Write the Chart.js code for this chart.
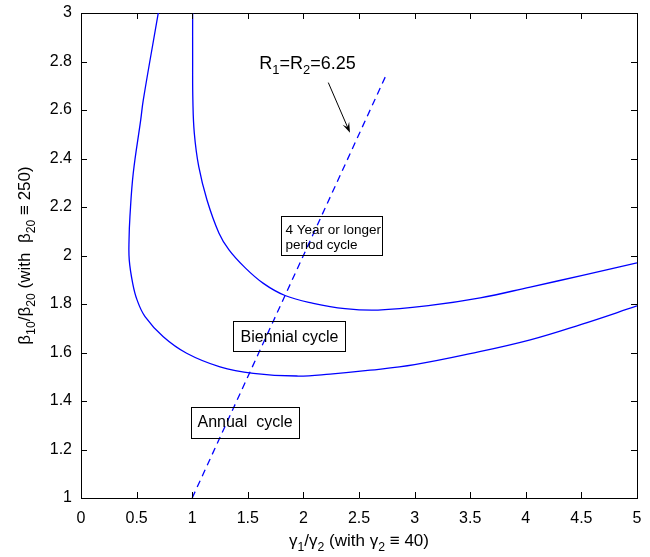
<!DOCTYPE html>
<html>
<head>
<meta charset="utf-8">
<script src="https://cdn.jsdelivr.net/npm/chart.js@4/dist/chart.umd.min.js"></script>
<style>
  html, body { margin: 0; padding: 0; background: #fff; }
</style>
</head>
<body>
<canvas id="myChart" width="650" height="557"></canvas>
<script>
// axis ticks
const xTicks = [0, 0.5, 1, 1.5, 2, 2.5, 3, 3.5, 4, 4.5, 5];
const xTickLabels = ['0', '0.5', '1', '1.5', '2', '2.5', '3', '3.5', '4', '4.5', '5'];
const yTicks = [1, 1.2, 1.4, 1.6, 1.8, 2, 2.2, 2.4, 2.6, 2.8, 3];
const yTickLabels = ['1', '1.2', '1.4', '1.6', '1.8', '2', '2.2', '2.4', '2.6', '2.8', '3'];

// annual / biennial boundary
const lowerX = [0.695, 0.56, 0.537, 0.47, 0.44, 0.432, 0.434, 0.465, 0.504, 0.576, 0.74, 0.95, 1.25, 1.55, 1.94, 2.24, 2.6, 3.0, 3.5, 4.04, 4.5, 5.0];
const lowerY = [3.0, 2.641, 2.559, 2.34, 2.16, 2.064, 1.981, 1.885, 1.817, 1.748, 1.665, 1.597, 1.541, 1.514, 1.503, 1.511, 1.527, 1.55, 1.595, 1.652, 1.716, 1.792];

// biennial / 4 year boundary
const upperX = [1.004, 1.004, 1.006, 1.019, 1.059, 1.133, 1.241, 1.331, 1.466, 1.64, 1.835, 2.089, 2.374, 2.671, 3.14, 3.59, 4.04, 4.51, 5.0];
const upperY = [3.0, 2.806, 2.641, 2.504, 2.366, 2.229, 2.092, 2.023, 1.954, 1.885, 1.835, 1.803, 1.781, 1.775, 1.794, 1.825, 1.87, 1.918, 1.97];

// R1 = R2 = 6.25 line
const dashX = [1.0, 2.75];
const dashY = [1.0, 2.75];

const FONT = '"Liberation Sans", Arial, sans-serif';

const toPoints = (xs, ys) => xs.map((x, i) => ({ x: x, y: ys[i] }));

function richWidth(ctx, parts, size) {
  let w = 0;
  parts.forEach(([t, sub]) => {
    ctx.font = (sub ? size * 0.72 : size) + 'px ' + FONT;
    w += ctx.measureText(t).width;
  });
  return w;
}

function drawRich(ctx, parts, x, y, size) {
  parts.forEach(([t, sub]) => {
    ctx.font = (sub ? size * 0.72 : size) + 'px ' + FONT;
    ctx.fillText(t, x, sub ? y + size * 0.28 : y);
    x += ctx.measureText(t).width;
  });
}

const xTitle = [['γ'], ['1', true], ['/γ'], ['2', true], [' (with γ'], ['2', true], [' ≡ 40)']];
const yTitle = [['β'], ['10', true], ['/β'], ['20', true], [' (with  β'], ['20', true], [' ≡ 250)']];
const rLabel = [['R'], ['1', true], ['=R'], ['2', true], ['=6.25']];

// inward ticks on all four sides (matlab look)
const inTicks = {
  id: 'inTicks',
  afterDraw(chart) {
    const ctx = chart.ctx;
    const xs = chart.scales.x, ys = chart.scales.y;
    const L = xs.left, R = xs.right, T = ys.top, B = ys.bottom;
    ctx.save();
    ctx.strokeStyle = '#000';
    ctx.lineWidth = 1;
    ctx.beginPath();
    xTicks.forEach(v => {
      const px = Math.round(xs.getPixelForValue(v)) + 0.5;
      ctx.moveTo(px, B); ctx.lineTo(px, B - 6);
      ctx.moveTo(px, T); ctx.lineTo(px, T + 6);
    });
    yTicks.forEach(v => {
      const py = Math.round(ys.getPixelForValue(v)) + 0.5;
      ctx.moveTo(L, py); ctx.lineTo(L + 6, py);
      ctx.moveTo(R, py); ctx.lineTo(R - 6, py);
    });
    ctx.stroke();
    ctx.restore();
  }
};

const decor = {
  id: 'decor',
  afterDraw(chart) {
    const ctx = chart.ctx;
    const x = chart.scales.x, y = chart.scales.y;
    ctx.save();
    ctx.strokeStyle = '#000';
    ctx.fillStyle = '#000';
    ctx.lineWidth = 1;
    ctx.textBaseline = 'alphabetic';

    // axis titles
    const xw = richWidth(ctx, xTitle, 17);
    drawRich(ctx, xTitle, (x.left + x.right) / 2 - xw / 2, 546, 17);

    const yw = richWidth(ctx, yTitle, 17);
    ctx.save();
    ctx.translate(30, (y.top + y.bottom) / 2);
    ctx.rotate(-Math.PI / 2);
    drawRich(ctx, yTitle, -yw / 2, 0, 17);
    ctx.restore();

    // region labels
    const box = (x0, y0, x1, y1) => {
      const l = Math.round(x.getPixelForValue(x0)) + 0.5, r = Math.round(x.getPixelForValue(x1)) + 0.5;
      const t = Math.round(y.getPixelForValue(y0)) + 0.5, b = Math.round(y.getPixelForValue(y1)) + 0.5;
      ctx.strokeRect(l, t, r - l, b - t);
      return { l, t, r, b };
    };

    let bx = box(1.803, 2.164, 2.711, 2.002);
    ctx.font = '13.5px ' + FONT;
    ctx.fillText('4 Year or longer', bx.l + 4, bx.t + 17);
    ctx.fillText('period cycle', bx.l + 4, bx.t + 32);

    bx = box(1.364, 1.730, 2.374, 1.606);
    ctx.font = '16px ' + FONT;
    ctx.fillText('Biennial cycle', bx.l + 7, bx.t + 20);

    bx = box(0.989, 1.377, 1.960, 1.246);
    ctx.font = '16px ' + FONT;
    ctx.fillText('Annual  cycle', bx.l + 6, bx.t + 19);

    // R1 = R2 label and arrow
    drawRich(ctx, rLabel, x.getPixelForValue(1.603), y.getPixelForValue(2.769), 18);
    const sx = x.getPixelForValue(2.224), sy = y.getPixelForValue(2.713);
    const ex = x.getPixelForValue(2.419), ey = y.getPixelForValue(2.506);
    const ang = Math.atan2(ey - sy, ex - sx);
    ctx.beginPath();
    ctx.moveTo(sx, sy);
    ctx.lineTo(ex - 5 * Math.cos(ang), ey - 5 * Math.sin(ang));
    ctx.stroke();
    ctx.beginPath();
    ctx.moveTo(ex, ey);
    ctx.lineTo(ex - 11 * Math.cos(ang - 0.33), ey - 11 * Math.sin(ang - 0.33));
    ctx.lineTo(ex - 6 * Math.cos(ang), ey - 6 * Math.sin(ang));
    ctx.lineTo(ex - 11 * Math.cos(ang + 0.33), ey - 11 * Math.sin(ang + 0.33));
    ctx.closePath();
    ctx.fill();

    ctx.restore();
  }
};

const edge = { display: true, color: '#000', width: 1 };
const hidden = { display: false };

new Chart(document.getElementById('myChart'), {
  type: 'scatter',
  data: {
    datasets: [
      {
        data: toPoints(lowerX, lowerY),
        showLine: true,
        borderColor: '#0000ff',
        borderWidth: 1.3,
        pointRadius: 0,
        tension: 0.4
      },
      {
        data: toPoints(upperX, upperY),
        showLine: true,
        borderColor: '#0000ff',
        borderWidth: 1.3,
        pointRadius: 0,
        tension: 0.4
      },
      {
        data: toPoints(dashX, dashY),
        showLine: true,
        borderColor: '#0000ff',
        borderWidth: 1.3,
        borderDash: [7, 5],
        pointRadius: 0
      }
    ]
  },
  options: {
    responsive: false,
    animation: false,
    layout: { padding: { left: 0, top: 13, right: 13, bottom: 0 } },
    plugins: {
      legend: { display: false },
      tooltip: { enabled: false }
    },
    scales: {
      x: {
        type: 'linear',
        min: 0,
        max: 5,
        afterBuildTicks: s => { s.ticks = xTicks.map(v => ({ value: v })); },
        afterFit: s => { s.height = 59; s.paddingLeft = 0; s.paddingRight = 0; },
        grid: { display: false, drawTicks: false },
        border: edge,
        ticks: {
          padding: 11,
          color: '#000',
          font: { family: FONT, size: 16 },
          maxRotation: 0,
          autoSkip: false,
          callback: (v, i) => xTickLabels[i]
        }
      },
      x2: {
        type: 'linear',
        position: 'top',
        min: 0,
        max: 5,
        afterFit: s => { s.height = 0; s.paddingLeft = 0; s.paddingRight = 0; },
        grid: { display: false, drawTicks: false },
        border: edge,
        ticks: hidden
      },
      y: {
        type: 'linear',
        min: 1,
        max: 3,
        afterBuildTicks: s => { s.ticks = yTicks.map(v => ({ value: v })); },
        afterFit: s => { s.width = 81; s.paddingTop = 0; s.paddingBottom = 0; },
        grid: { display: false, drawTicks: false },
        border: edge,
        ticks: {
          padding: 9,
          color: '#000',
          font: { family: FONT, size: 16 },
          autoSkip: false,
          callback: (v, i) => yTickLabels[i]
        }
      },
      y2: {
        type: 'linear',
        position: 'right',
        min: 1,
        max: 3,
        afterFit: s => { s.width = 0; s.paddingTop = 0; s.paddingBottom = 0; },
        grid: { display: false, drawTicks: false },
        border: edge,
        ticks: hidden
      }
    }
  },
  plugins: [inTicks, decor]
});
</script>
</body>
</html>
